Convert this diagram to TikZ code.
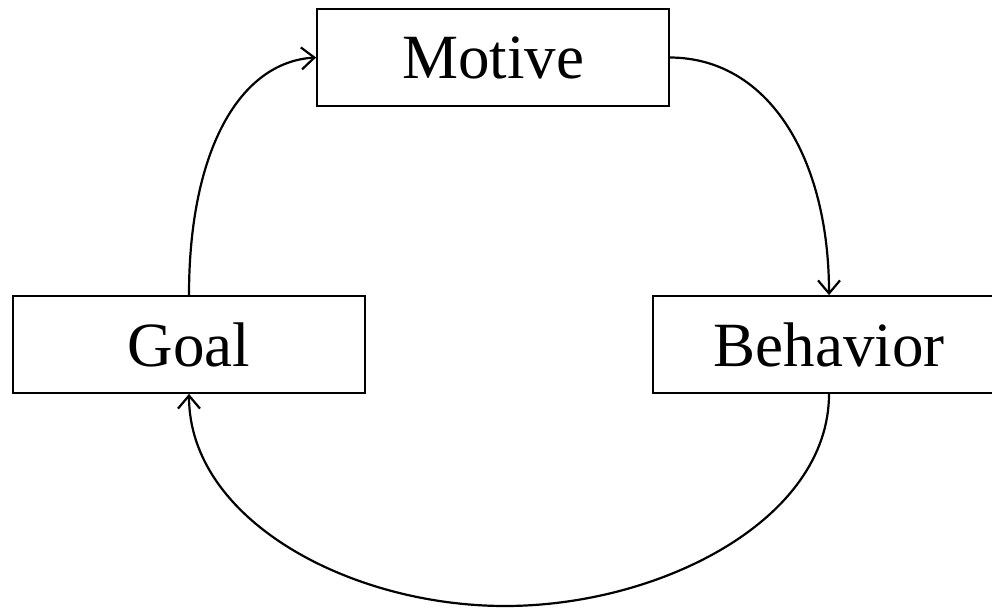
\documentclass[tikz,border=0pt]{standalone}
\usepackage{fontspec}
\setmainfont{Liberation Serif}
\usetikzlibrary{arrows.meta}
\begin{document}
\begin{tikzpicture}[x=1pt,y=-1pt,
  stagebox/.style={draw,line width=1.8pt,minimum width=352pt,minimum height=97pt,
    inner sep=0pt,font=\fontsize{63}{70}\selectfont},
  flow/.style={line width=2.2pt,-{Straight Barb[length=13pt,width=22pt,line width=2.2pt]}}]
  \useasboundingbox (0,0) rectangle (992,609);
  \node[stagebox] (motive) at (493,57.5) {Motive};
  \node[stagebox] (goal) at (189,344.5) {Goal};
  \node[stagebox] (behavior) at (829,344.5) {Behavior};
  \coordinate (low) at (505,606);
  % cycle of arrows
  \draw[flow] (goal.north) .. controls (189,150) and (240,62) .. (motive.west);
  \draw[flow] (motive.east) .. controls (770,58) and (829,160) .. (behavior.north);
  \draw[flow] (behavior.south) .. controls (829,520) and (660,606) .. (low)
    .. controls (350,606) and (189,520) .. (goal.south);
\end{tikzpicture}
\end{document}
